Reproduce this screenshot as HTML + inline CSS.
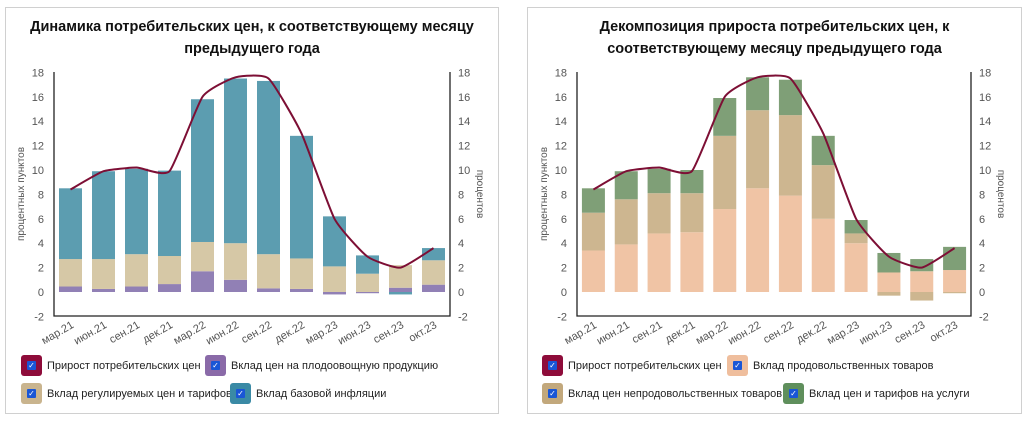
<!DOCTYPE html>
<html><head><meta charset="utf-8"><style>
body{margin:0;background:#fff;width:1030px;height:423px;overflow:hidden;font-family:"Liberation Sans","DejaVu Sans",sans-serif}
.p{position:absolute;top:7px;height:407px;border:1px solid #d0d0d0;box-sizing:border-box}
.t{position:absolute;top:8px;left:0;right:0;text-align:center;font-weight:bold;font-size:14.5px;line-height:22px;color:#111;font-family:"Liberation Sans",sans-serif}
.lg{position:absolute;font-size:11px;color:#222;display:flex;align-items:center;font-family:"Liberation Sans",sans-serif;white-space:nowrap}
.sw{width:21px;height:21px;border-radius:3px;margin-right:5px;position:relative}
.sw:after{content:"✓";position:absolute;left:6px;top:6px;width:9px;height:9px;background:#1a56d6;color:#fff;font-size:8px;line-height:9px;text-align:center;border-radius:1px}
svg{position:absolute;left:0;top:0}
svg text{font-family:"Liberation Sans",sans-serif;font-size:11px;fill:#555}
</style></head><body>
<div class="p" style="left:5px;width:494px">
<div class="t">Динамика потребительских цен, к соответствующему месяцу<br>предыдущего года</div>
<div class="lg" style="left:15px;top:347px"><div class="sw" style="background:#8e0c3a"></div>Прирост потребительских цен</div>
<div class="lg" style="left:199px;top:347px"><div class="sw" style="background:#8a6aa8"></div>Вклад цен на плодоовощную продукцию</div>
<div class="lg" style="left:15px;top:375px"><div class="sw" style="background:#c9b48e"></div>Вклад регулируемых цен и тарифов</div>
<div class="lg" style="left:224px;top:375px"><div class="sw" style="background:#3a8aa5"></div>Вклад базовой инфляции</div>
</div>
<div class="p" style="left:527px;width:495px">
<div class="t">Декомпозиция прироста потребительских цен, к<br>соответствующему месяцу предыдущего года</div>
<div class="lg" style="left:14px;top:347px"><div class="sw" style="background:#8e0c3a"></div>Прирост потребительских цен</div>
<div class="lg" style="left:199px;top:347px"><div class="sw" style="background:#efbe9d"></div>Вклад продовольственных товаров</div>
<div class="lg" style="left:14px;top:375px"><div class="sw" style="background:#c2a87c"></div>Вклад цен непродовольственных товаров</div>
<div class="lg" style="left:255px;top:375px"><div class="sw" style="background:#5f8f5c"></div>Вклад цен и тарифов на услуги</div>
</div>
<svg id="s" width="1030" height="423"></svg>
<script>
var ns="http://www.w3.org/2000/svg",S=document.getElementById('s');
function el(n,a,t){var e=document.createElementNS(ns,n);for(var k in a)e.setAttribute(k,a[k]);if(t!=null)e.textContent=t;S.appendChild(e);return e}
function Y(v){return 292-12.2*v}
var labs=["мар.21","июн.21","сен.21","дек.21","мар.22","июн.22","сен.22","дек.22","мар.23","июн.23","сен.23","окт.23"];
var line=[8.4,9.9,10.2,9.9,16.0,17.6,17.5,13.0,6.0,2.9,2.0,3.6];
function chart(x0,x1,bars,cols){
 var st=(x1-x0)/12;
 bars.forEach(function(b,i){var cx=x0+st*(i+0.5);b.forEach(function(s){var a=Math.min(s[0],s[1]),c=Math.max(s[0],s[1]);el('rect',{x:cx-11.5,y:Y(c),width:23,height:Y(a)-Y(c),fill:cols[s[2]]})})});
 el('path',{d:'M'+x0+' 72V316H'+x1+'V72',fill:'none',stroke:'#222','stroke-width':1.3});
 for(var v=-2;v<=18;v+=2){el('text',{x:x0-10,y:Y(v)+4,'text-anchor':'end'},v);el('text',{x:x1+8,y:Y(v)+4},v)}
 labs.forEach(function(l,i){var cx=x0+st*(i+0.5)+4;el('text',{x:cx,y:327,'text-anchor':'end',transform:'rotate(-30 '+cx+' 327)'},l)});
 el('text',{x:0,y:0,transform:'translate('+(x0-30)+' 194) rotate(-90)','text-anchor':'middle','style':'font-size:10px'},'процентных пунктов');
 el('text',{x:0,y:0,transform:'translate('+(x1+27)+' 194) rotate(90)','text-anchor':'middle','style':'font-size:10px'},'процентов');
 var P=line.map(function(v,i){return [x0+st*(i+0.5),Y(v)]});
 var d='M'+P[0][0]+' '+P[0][1],k=12;
 for(var i=0;i<P.length-1;i++){var p0=P[i-1]||P[i],p1=P[i],p2=P[i+1],p3=P[i+2]||p2;
  d+=' C'+(p1[0]+(p2[0]-p0[0])/k)+' '+(p1[1]+(p2[1]-p0[1])/k)+' '+(p2[0]-(p3[0]-p1[0])/k)+' '+(p2[1]-(p3[1]-p1[1])/k)+' '+p2[0]+' '+p2[1];}
 el('path',{d:d,fill:'none',stroke:'#7d0f35','stroke-width':2});
}
var L=[[[0,.45,0],[.45,2.7,1],[2.7,8.5,2]],[[0,.25,0],[.25,2.7,1],[2.7,9.9,2]],[[0,.45,0],[.45,3.1,1],[3.1,10.1,2]],[[0,.65,0],[.65,2.95,1],[2.95,9.95,2]],
[[0,1.7,0],[1.7,4.1,1],[4.1,15.8,2]],[[0,1.0,0],[1.0,4.0,1],[4.0,17.5,2]],[[0,.3,0],[.3,3.1,1],[3.1,17.3,2]],[[0,.25,0],[.25,2.75,1],[2.75,12.8,2]],
[[0,-.2,0],[0,2.1,1],[2.1,6.2,2]],[[0,-.1,0],[0,1.5,1],[1.5,3.0,2]],[[0,-.2,2],[0,.35,0],[.35,2.2,1]],[[0,.6,0],[.6,2.6,1],[2.6,3.6,2]]];
chart(54,450,L,['#9180b5','#d6c8a6','#5c9db0']);
var R=[[[0,3.4,0],[3.4,6.5,1],[6.5,8.5,2]],[[0,3.9,0],[3.9,7.6,1],[7.6,9.9,2]],[[0,4.8,0],[4.8,8.1,1],[8.1,10.1,2]],[[0,4.9,0],[4.9,8.1,1],[8.1,10.0,2]],
[[0,6.8,0],[6.8,12.8,1],[12.8,15.9,2]],[[0,8.5,0],[8.5,14.9,1],[14.9,17.6,2]],[[0,7.9,0],[7.9,14.5,1],[14.5,17.4,2]],[[0,6.0,0],[6.0,10.4,1],[10.4,12.8,2]],
[[0,4.0,0],[4.0,4.8,1],[4.8,5.9,2]],[[0,1.6,0],[0,-.3,1],[1.6,3.2,2]],[[0,1.7,0],[0,-.7,1],[1.7,2.7,2]],[[0,1.8,0],[0,-.1,1],[1.8,3.7,2]]];
chart(577,971,R,['#f0c4a5','#cdb690','#7f9f77']);
</script>
</body></html>
